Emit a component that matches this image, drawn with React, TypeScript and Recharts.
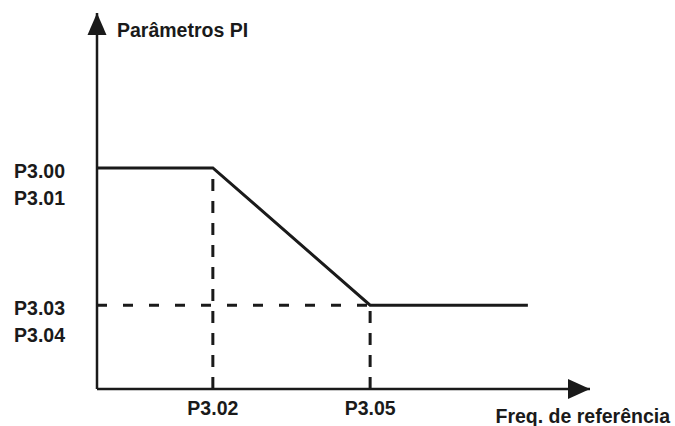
import React from 'react';
import {
    LineChart,
    Line,
    XAxis,
    YAxis,
    ReferenceLine,
    ReferenceDot,
    Label
} from 'recharts';

// curve points (axis units, domain 0..10 on both axes)
const curveX = [0, 2.35, 5.54, 8.74];
const curveY = [5.88, 5.88, 2.23, 2.23];

const xTicks = [2.35, 5.54];
const xTickLabels = ['P3.02', 'P3.05'];

const yTicks = [5.88, 2.23];
const yTickLabels = [
    ['P3.00', 'P3.01'],
    ['P3.03', 'P3.04']
];

const yAxisTitle = 'Parâmetros PI';
const xAxisTitle = 'Freq. de referência';

const INK = '#1a1a1a';
const FONT = '"Liberation Sans", Arial, sans-serif';

const data = curveX.map((x, i) => ({ x, y: curveY[i] }));

const XTick = (props: any) => {
    const { x, y, payload } = props;
    const idx = xTicks.indexOf(payload.value);
    return (
        <text x={x} y={y} dy={18} textAnchor="middle" fontFamily={FONT} fontWeight="bold" fontSize={19.5} fill={INK}>
            {xTickLabels[idx]}
        </text>
    );
};

const YTick = (props: any) => {
    const { x, y, payload } = props;
    const idx = yTicks.indexOf(payload.value);
    const lines = yTickLabels[idx] || [];
    return (
        <g>
            {lines.map((t, i) => (
                <text
                    key={t}
                    x={x}
                    y={y + 3 + i * 27}
                    dx={-24}
                    dominantBaseline="central"
                    textAnchor="end"
                    fontFamily={FONT}
                    fontWeight="bold"
                    fontSize={19.5}
                    fill={INK}
                >
                    {t}
                </text>
            ))}
        </g>
    );
};

const ArrowRight = (props: any) => {
    const { cx, cy } = props;
    return <polygon points={`${cx},${cy} ${cx - 22},${cy - 10} ${cx - 22},${cy + 10}`} fill={INK} />;
};

const ArrowUp = (props: any) => {
    const { cx, cy } = props;
    return <polygon points={`${cx},${cy} ${cx - 9.5},${cy + 22} ${cx + 9.5},${cy + 22}`} fill={INK} />;
};

const App: React.FC = () => {
    return (
        <div style={{ position: 'absolute', left: 0, top: 0, width: 675, height: 426, background: '#fff' }}>
            <LineChart width={675} height={426} data={data} margin={{ top: 13, right: 85, left: 0, bottom: 0 }}>
                <XAxis
                    type="number"
                    dataKey="x"
                    domain={[0, 10]}
                    ticks={xTicks}
                    tick={<XTick />}
                    tickLine={false}
                    height={37}
                    axisLine={{ stroke: INK, strokeWidth: 2.5 }}
                >
                    <Label
                        content={(p: any) => {
                            const vb = p.viewBox;
                            return (
                                <text
                                    x={vb.x + vb.width + 80}
                                    y={vb.y + 27}
                                    dominantBaseline="central"
                                    textAnchor="end"
                                    fontFamily={FONT}
                                    fontWeight="bold"
                                    fontSize={19.5}
                                    fill={INK}
                                >
                                    {xAxisTitle}
                                </text>
                            );
                        }}
                    />
                </XAxis>
                <YAxis
                    type="number"
                    domain={[0, 10]}
                    ticks={yTicks}
                    tick={<YTick />}
                    tickLine={false}
                    width={97}
                    axisLine={{ stroke: INK, strokeWidth: 2.5 }}
                >
                    <Label
                        content={(p: any) => {
                            const vb = p.viewBox;
                            return (
                                <text
                                    x={vb.x + vb.width + 20}
                                    y={vb.y + 17}
                                    dominantBaseline="central"
                                    textAnchor="start"
                                    fontFamily={FONT}
                                    fontWeight="bold"
                                    fontSize={19.5}
                                    fill={INK}
                                >
                                    {yAxisTitle}
                                </text>
                            );
                        }}
                    />
                </YAxis>

                {/* dashed guides */}
                <ReferenceLine
                    segment={[{ x: 0, y: curveY[2] }, { x: curveX[2], y: curveY[2] }]}
                    stroke={INK}
                    strokeWidth={3}
                    strokeDasharray="10 16"
                />
                <ReferenceLine
                    segment={[{ x: curveX[1], y: 0 }, { x: curveX[1], y: curveY[1] }]}
                    stroke={INK}
                    strokeWidth={3}
                    strokeDasharray="12 10"
                />
                <ReferenceLine
                    segment={[{ x: curveX[2], y: 0 }, { x: curveX[2], y: curveY[2] }]}
                    stroke={INK}
                    strokeWidth={3}
                    strokeDasharray="12 10"
                />

                <Line
                    type="linear"
                    dataKey="y"
                    stroke={INK}
                    strokeWidth={3}
                    dot={false}
                    activeDot={false}
                    isAnimationActive={false}
                />

                {/* axis arrowheads */}
                <ReferenceDot x={10} y={0} r={0} shape={<ArrowRight />} />
                <ReferenceDot x={0} y={10} r={0} shape={<ArrowUp />} />
            </LineChart>
        </div>
    );
};

export default App;
